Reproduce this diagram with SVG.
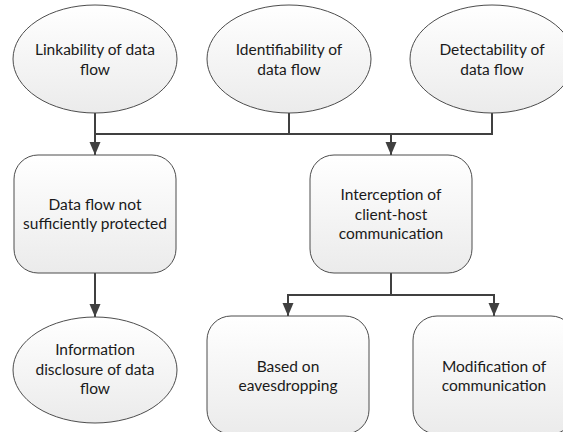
<svg xmlns="http://www.w3.org/2000/svg" width="563" height="432" viewBox="0 0 563 432">
  <defs>
    <linearGradient id="fillGrad" x1="0" y1="0" x2="0" y2="1">
      <stop offset="0" stop-color="#ffffff"/>
      <stop offset="1" stop-color="#ebebeb"/>
    </linearGradient>
    <marker id="arrow" markerUnits="userSpaceOnUse" markerWidth="14" markerHeight="14" viewBox="0 0 14 14" refX="13" refY="7" orient="auto">
      <path d="M0,1.5 L13,7 L0,12.5 Z" fill="#404040"/>
    </marker>
    <style>
      .shape { fill: url(#fillGrad); stroke: #4d4d4d; stroke-width: 1; }
      .label { font-family: Lato, "Liberation Sans", sans-serif; font-size: 15.5px; fill: #1a1a1a; text-anchor: middle; }
      .conn { fill: none; stroke: #404040; stroke-width: 2; }
    </style>
  </defs>
  <rect width="563" height="432" fill="#ffffff"/>

  <!-- connectors -->
  <g id="connectors">
    <polyline class="conn" points="95,113 95,134 492,134 492,113"/>
    <line class="conn" x1="289" y1="113" x2="289" y2="134"/>
    <line class="conn" x1="95" y1="134" x2="95" y2="155" marker-end="url(#arrow)"/>
    <line class="conn" x1="391" y1="134" x2="391" y2="155" marker-end="url(#arrow)"/>
    <line class="conn" x1="95" y1="273" x2="95" y2="317" marker-end="url(#arrow)"/>
    <polyline class="conn" points="391,273 391,295 288,295 288,316" marker-end="url(#arrow)"/>
    <polyline class="conn" points="391,295 494,295 494,316" marker-end="url(#arrow)"/>
  </g>

  <!-- nodes -->
  <g id="linkability">
    <ellipse class="shape" cx="95" cy="59" rx="82" ry="54"/>
    <text class="label" x="95" y="55">Linkability of data</text>
    <text class="label" x="95" y="75">flow</text>
  </g>
  <g id="identifiability">
    <ellipse class="shape" cx="289" cy="59" rx="82" ry="54"/>
    <text class="label" x="289" y="55">Identifiability of</text>
    <text class="label" x="289" y="75">data flow</text>
  </g>
  <g id="detectability">
    <ellipse class="shape" cx="492" cy="59" rx="82" ry="54"/>
    <text class="label" x="492" y="55">Detectability of</text>
    <text class="label" x="492" y="75">data flow</text>
  </g>
  <g id="not-protected">
    <rect class="shape" x="14" y="155" width="162" height="118" rx="24" ry="24"/>
    <text class="label" x="95" y="210">Data flow not</text>
    <text class="label" x="95" y="229">sufficiently protected</text>
  </g>
  <g id="interception">
    <rect class="shape" x="310" y="155" width="162" height="118" rx="24" ry="24"/>
    <text class="label" x="391" y="200">Interception of</text>
    <text class="label" x="391" y="220">client-host</text>
    <text class="label" x="391" y="239">communication</text>
  </g>
  <g id="disclosure">
    <ellipse class="shape" cx="95" cy="370" rx="82" ry="53"/>
    <text class="label" x="95" y="355">Information</text>
    <text class="label" x="95" y="375">disclosure of data</text>
    <text class="label" x="95" y="394">flow</text>
  </g>
  <g id="eavesdropping">
    <rect class="shape" x="207" y="316" width="162" height="118" rx="24" ry="24"/>
    <text class="label" x="288" y="372">Based on</text>
    <text class="label" x="288" y="391">eavesdropping</text>
  </g>
  <g id="modification">
    <rect class="shape" x="413" y="316" width="162" height="118" rx="24" ry="24"/>
    <text class="label" x="494" y="372">Modification of</text>
    <text class="label" x="494" y="391">communication</text>
  </g>
</svg>
